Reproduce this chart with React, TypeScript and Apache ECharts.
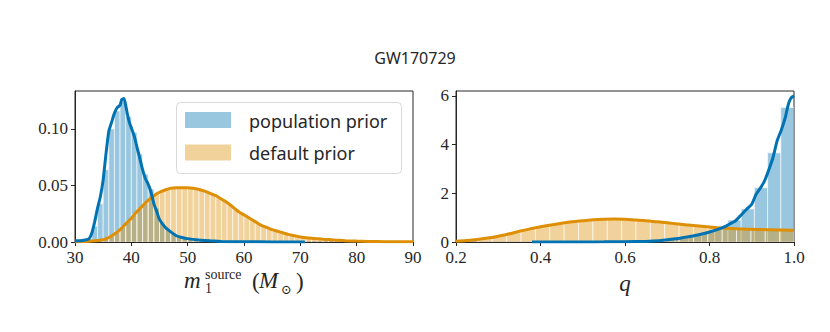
import React, { useEffect, useRef } from "react";
import * as echarts from "echarts";

const TITLE = "GW170729";
const LEGEND_LABELS = ["population prior", "default prior"];

// ---- left panel: m1 source (Msun) ----
const M1_TICKS = [30, 40, 50, 60, 70, 80, 90];
const M1_Y_TICKS = [0, 0.05, 0.1];
const M1_BIN_START = 30;
const M1_BIN_WIDTH = 1;
const m1PopBars = [
  0.001, 0.0012, 0.003, 0.014, 0.034, 0.064, 0.1, 0.116, 0.124, 0.111,
  0.097, 0.078, 0.06, 0.047, 0.03, 0.018, 0.011, 0.0075, 0.005, 0.0037,
  0.0028, 0.0021, 0.0016, 0.0012, 0.0009, 0.0007, 0.0005, 0.0004, 0.0003, 0.0003,
  0.0002, 0.0002, 0.0002, 0.0001, 0.0001, 0.0001, 0.0001, 0.0001, 0.0001, 0.0001,
];
const m1DefBars = [
  0.0003, 0.0005, 0.0007, 0.001, 0.0016, 0.003, 0.0055, 0.009, 0.0135, 0.0185,
  0.024, 0.0295, 0.0345, 0.039, 0.0425, 0.045, 0.047, 0.048, 0.048, 0.048,
  0.048, 0.047, 0.046, 0.044, 0.042, 0.0395, 0.0365, 0.033, 0.029, 0.0255,
  0.0225, 0.0195, 0.0165, 0.014, 0.012, 0.01, 0.0088, 0.0073, 0.006, 0.005,
  0.0042, 0.0036, 0.003, 0.0026, 0.0022, 0.0019, 0.0016, 0.0013, 0.0011, 0.0009,
  0.0007, 0.0006, 0.0005, 0.0004, 0.0004, 0.0003, 0.0003, 0.0002, 0.0002, 0.0002,
];
const m1PopLineX = [
  30, 31, 32, 32.5, 33, 33.5, 34, 34.5, 35, 35.5, 36, 36.5, 37, 37.5, 38, 38.3, 38.7,
  39, 39.3, 39.7, 40, 40.5, 41, 41.5, 42, 42.5, 43, 43.5, 44, 44.5, 45, 46, 47, 48,
  49, 50, 52, 54, 56, 60, 65, 70.8,
];
const m1PopLineY = [
  0.001, 0.0012, 0.002, 0.003, 0.008, 0.018, 0.03, 0.04, 0.055, 0.078, 0.098, 0.106,
  0.114, 0.119, 0.121, 0.126, 0.127, 0.121, 0.113, 0.105, 0.101, 0.094, 0.084, 0.074,
  0.064, 0.056, 0.051, 0.044, 0.034, 0.027, 0.02, 0.013, 0.009, 0.0055, 0.004, 0.003,
  0.0018, 0.001, 0.0004, 0.0002, 0.0001, 0,
];
const m1DefLineX = [
  30, 32, 33, 34, 35, 36, 37, 38, 39, 40, 41, 42, 43, 44, 45, 46, 47, 48, 49, 50, 51,
  52, 53, 54, 55, 56, 57, 58, 59, 60, 61, 62, 63, 64, 65, 66, 67, 68, 69, 70, 72, 74,
  76, 78, 80, 82, 85, 90,
];
const m1DefLineY = [
  0.0002, 0.0005, 0.0008, 0.0013, 0.002, 0.004, 0.007, 0.011, 0.016, 0.021, 0.027,
  0.032, 0.037, 0.041, 0.044, 0.046, 0.0475, 0.048, 0.048, 0.048, 0.0475, 0.0465,
  0.045, 0.043, 0.041, 0.038, 0.035, 0.031, 0.027, 0.024, 0.021, 0.018, 0.015, 0.013,
  0.011, 0.0095, 0.008, 0.0065, 0.0055, 0.0045, 0.0033, 0.0025, 0.0018, 0.0012,
  0.0008, 0.0005, 0.0003, 0.0002,
];

// ---- right panel: mass ratio q ----
const Q_TICKS = [0.2, 0.4, 0.6, 0.8, 1.0];
const Q_Y_TICKS = [0, 2, 4, 6];
const Q_POP_BIN_START = 0.25;
const Q_POP_BIN_WIDTH = 0.03125;
const qPopBars = [
  0.0002, 0.0003, 0.0005, 0.0008, 0.001, 0.0015, 0.002, 0.003, 0.005, 0.008,
  0.012, 0.02, 0.035, 0.065, 0.11, 0.18, 0.28, 0.42, 0.62, 0.9,
  1.36, 2.23, 3.66, 5.52,
];
const Q_DEF_BIN_START = 0.184;
const Q_DEF_BIN_WIDTH = 0.034;
const qDefBars = [
  0.03, 0.07, 0.16, 0.27, 0.41, 0.53, 0.64, 0.74, 0.82, 0.88, 0.92, 0.94,
  0.92, 0.88, 0.83, 0.77, 0.71, 0.65, 0.6, 0.56, 0.53, 0.51, 0.5, 0.49,
];
const qPopLineX = [
  0.38, 0.45, 0.5, 0.55, 0.6, 0.65, 0.68, 0.7, 0.72, 0.74, 0.76, 0.78, 0.8, 0.82, 0.84,
  0.85, 0.86, 0.87, 0.88, 0.89, 0.9, 0.91, 0.92, 0.93, 0.94, 0.95, 0.96, 0.97, 0.98,
  0.985, 0.99, 0.995, 1.0,
];
const qPopLineY = [
  0, 0.002, 0.003, 0.006, 0.012, 0.025, 0.05, 0.09, 0.13, 0.19, 0.25, 0.32, 0.41, 0.52,
  0.66, 0.76, 0.85, 1.02, 1.2, 1.38, 1.55, 1.95, 2.2, 2.5, 2.95, 3.45, 4.15, 4.6, 5.15,
  5.55, 5.82, 5.95, 6.0,
];
const qDefLineX = [
  0.2, 0.225, 0.25, 0.275, 0.3, 0.325, 0.35, 0.375, 0.4, 0.425, 0.45, 0.475, 0.5,
  0.525, 0.55, 0.575, 0.6, 0.625, 0.65, 0.675, 0.7, 0.725, 0.75, 0.775, 0.8, 0.825,
  0.85, 0.875, 0.9, 0.925, 0.95, 0.975, 1.0,
];
const qDefLineY = [
  0.03, 0.06, 0.1, 0.16, 0.24, 0.33, 0.44, 0.54, 0.63, 0.7, 0.77, 0.83, 0.87, 0.91,
  0.93, 0.94, 0.93, 0.9, 0.87, 0.83, 0.79, 0.74, 0.7, 0.66, 0.62, 0.58, 0.55, 0.53,
  0.52, 0.51, 0.5, 0.49, 0.48,
];

const BLUE = "#0173b2";
const ORANGE = "#de8f05";
const BLUE_FILL = "rgba(1,115,178,0.4)";
const ORANGE_FILL = "rgba(222,143,5,0.4)";
const INK = "#262626";
const SERIF = "'Liberation Serif', 'DejaVu Serif', serif";
const SANS = "'Noto Sans', 'DejaVu Sans', sans-serif";

const toBins = (start: number, width: number, heights: number[]) =>
  heights.map((h, i) => [start + i * width, start + (i + 1) * width, h]);
const zip = (xs: number[], ys: number[]) => xs.map((x, i) => [x, ys[i]]);

function histSeries(name: string, data: number[][], axis: number, fill: string, z: number) {
  return {
    type: "custom",
    name,
    xAxisIndex: axis,
    yAxisIndex: axis,
    z,
    clip: true,
    silent: true,
    encode: { x: [0, 1], y: 2 },
    renderItem: (_params: any, api: any) => {
      const p0 = api.coord([api.value(0), api.value(2)]);
      const p1 = api.coord([api.value(1), 0]);
      return {
        type: "rect",
        shape: { x: p0[0], y: p0[1], width: p1[0] - p0[0], height: p1[1] - p0[1] },
        style: { fill, stroke: "rgba(255,255,255,0.75)", lineWidth: 0.8 },
      };
    },
    data,
  };
}

function lineSeries(name: string, data: number[][], axis: number, color: string, z: number, smooth: number) {
  return {
    type: "line",
    name,
    xAxisIndex: axis,
    yAxisIndex: axis,
    z,
    showSymbol: false,
    silent: true,
    smooth,
    lineStyle: { color, width: 3 },
    itemStyle: { color },
    data,
  };
}

function makeAxis(gridIndex: number, min: number, max: number, ticks: number[], margin: number, fmt: (v: number) => string) {
  return {
    type: "value",
    gridIndex,
    min,
    max,
    axisLine: { show: true, onZero: false, lineStyle: { color: INK, width: 1 } },
    axisTick: { show: true, length: 4, customValues: ticks, lineStyle: { color: INK, width: 1 } },
    splitLine: { show: false },
    axisLabel: {
      color: INK,
      fontFamily: SERIF,
      fontSize: 17,
      margin,
      customValues: ticks,
      formatter: fmt,
    },
  };
}

export default function App() {
  const ref = useRef<HTMLDivElement>(null);
  useEffect(() => {
    if (!ref.current) return;
    const chart = echarts.init(ref.current, undefined, { renderer: "svg" });
    const mathText = (text: string, x: number, y: number, size: number, italic: boolean, align = "left") => ({
      type: "text",
      x,
      y,
      silent: true,
      style: {
        text,
        fill: INK,
        font: `${italic ? "italic " : ""}${size}px ${SERIF}`,
        textAlign: align,
        verticalAlign: "middle",
      },
    });
    chart.setOption({
      animation: false,
      backgroundColor: "#ffffff",
      title: {
        text: TITLE,
        left: "center",
        top: 45,
        textStyle: { fontFamily: SANS, fontSize: 16, fontWeight: "normal", color: INK },
      },
      grid: [
        { left: 75, top: 91, width: 338, height: 151, show: true, borderColor: INK, borderWidth: 1 },
        { left: 456, top: 91, width: 338, height: 151, show: true, borderColor: INK, borderWidth: 1 },
      ],
      xAxis: [
        makeAxis(0, 30, 90, M1_TICKS, 7, (v) => String(v)),
        makeAxis(1, 0.2, 1.0, Q_TICKS, 7, (v) => v.toFixed(1)),
      ],
      yAxis: [
        makeAxis(0, 0, 0.1336, M1_Y_TICKS, 7, (v) => v.toFixed(2)),
        makeAxis(1, 0, 6.2, Q_Y_TICKS, 7, (v) => v.toFixed(0)),
      ],
      series: [
        histSeries(LEGEND_LABELS[0], toBins(M1_BIN_START, M1_BIN_WIDTH, m1PopBars), 0, BLUE_FILL, 1),
        histSeries(LEGEND_LABELS[1], toBins(M1_BIN_START, M1_BIN_WIDTH, m1DefBars), 0, ORANGE_FILL, 2),
        lineSeries(LEGEND_LABELS[1] + " kde", zip(m1DefLineX, m1DefLineY), 0, ORANGE, 3, 0.3),
        lineSeries(LEGEND_LABELS[0] + " kde", zip(m1PopLineX, m1PopLineY), 0, BLUE, 4, 0.15),
        histSeries(LEGEND_LABELS[0] + " q", toBins(Q_POP_BIN_START, Q_POP_BIN_WIDTH, qPopBars), 1, BLUE_FILL, 1),
        histSeries(LEGEND_LABELS[1] + " q", toBins(Q_DEF_BIN_START, Q_DEF_BIN_WIDTH, qDefBars), 1, ORANGE_FILL, 2),
        lineSeries(LEGEND_LABELS[1] + " q kde", zip(qDefLineX, qDefLineY), 1, ORANGE, 3, 0.3),
        lineSeries(LEGEND_LABELS[0] + " q kde", zip(qPopLineX, qPopLineY), 1, BLUE, 4, 0.15),
      ],
      graphic: [
        // legend
        {
          type: "rect", silent: true, z: 10,
          shape: { x: 176.5, y: 102.5, width: 225, height: 71, r: 4 },
          style: { fill: "rgba(255,255,255,0.85)", stroke: "#d9d9d9", lineWidth: 1 },
        },
        { type: "rect", silent: true, z: 11, shape: { x: 185, y: 112, width: 46, height: 16 }, style: { fill: BLUE_FILL } },
        { type: "rect", silent: true, z: 11, shape: { x: 185, y: 144.5, width: 46, height: 16 }, style: { fill: ORANGE_FILL } },
        {
          type: "text", silent: true, z: 11, x: 249, y: 121,
          style: { text: LEGEND_LABELS[0], fill: INK, font: `18px ${SANS}`, textAlign: "left", verticalAlign: "middle" },
        },
        {
          type: "text", silent: true, z: 11, x: 249, y: 153,
          style: { text: LEGEND_LABELS[1], fill: INK, font: `18px ${SANS}`, textAlign: "left", verticalAlign: "middle" },
        },
        // x-axis title, left: m_1^source (M_sun)
        mathText("m", 184, 280, 23, true),
        mathText("source", 205, 274, 14, false),
        mathText("1", 205, 288, 14, false),
        mathText("(", 252, 281, 23, false),
        mathText("M", 259, 280, 23, true),
        mathText("\u2299", 281, 289, 13, false),
        mathText(")", 296, 281, 23, false),
        // x-axis title, right: q
        mathText("q", 625, 283, 23, true, "center"),
      ],
    });
    return () => chart.dispose();
  }, []);
  return (
    <div
      ref={ref}
      style={{ position: "fixed", left: 0, top: 0, width: 830, height: 332, background: "#fff" }}
    />
  );
}
